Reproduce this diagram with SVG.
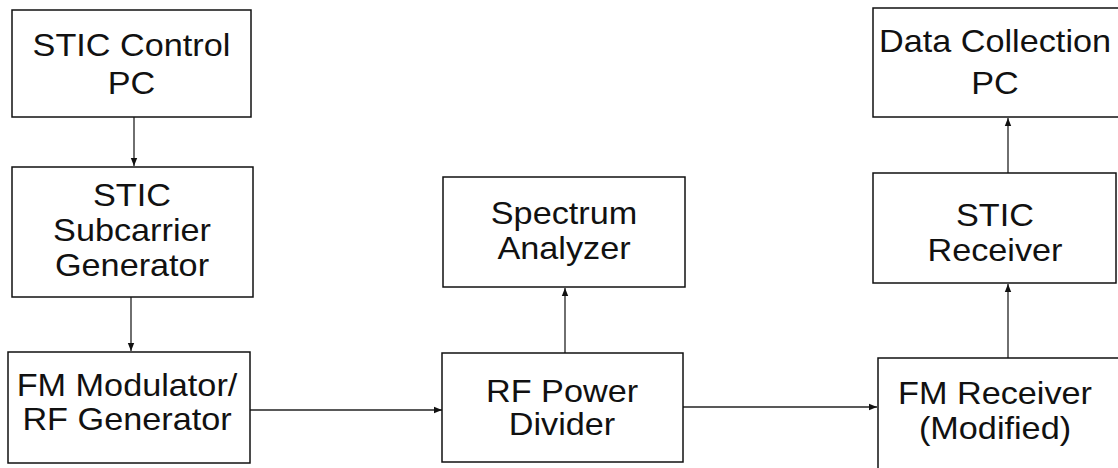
<svg xmlns="http://www.w3.org/2000/svg" width="1118" height="468" viewBox="0 0 1118 468">
<defs>
<marker id="ah" markerWidth="8" markerHeight="8" refX="8" refY="4" orient="auto" markerUnits="userSpaceOnUse">
<path d="M0,0.8 L8,4 L0,7.2 Z" fill="#111"/>
</marker>
<style>
.box{fill:#fff;stroke:#111;stroke-width:1.5}
.lbl{font-family:"Liberation Sans",Arial,sans-serif;font-size:32px;fill:#111;text-anchor:middle}
.edge{fill:none;stroke:#222;stroke-width:1.3;marker-end:url(#ah)}
</style>
</defs>
<rect width="1118" height="468" fill="#fff"/>
<g id="connectors">
<line class="edge" x1="134" y1="117" x2="134" y2="166"/>
<line class="edge" x1="131" y1="297" x2="131" y2="351"/>
<line class="edge" x1="250" y1="410" x2="442" y2="410"/>
<line class="edge" x1="565" y1="353" x2="565" y2="288"/>
<line class="edge" x1="683" y1="407" x2="877" y2="407"/>
<line class="edge" x1="1008" y1="358" x2="1008" y2="284"/>
<line class="edge" x1="1008" y1="173" x2="1008" y2="118"/>
</g>
<g id="stic-control-pc">
<rect class="box" x="12" y="10" width="239" height="107"/>
<text class="lbl" transform="translate(131.5,56) scale(1.07,1)">STIC Control</text>
<text class="lbl" transform="translate(131.5,94) scale(1.07,1)">PC</text>
</g>
<g id="stic-subcarrier-generator">
<rect class="box" x="12" y="167" width="241" height="130"/>
<text class="lbl" transform="translate(132,206) scale(1.07,1)">STIC</text>
<text class="lbl" transform="translate(132,241) scale(1.07,1)">Subcarrier</text>
<text class="lbl" transform="translate(132,276) scale(1.07,1)">Generator</text>
</g>
<g id="fm-modulator">
<rect class="box" x="8" y="352" width="242" height="111"/>
<text class="lbl" transform="translate(127,396) scale(1.07,1)">FM Modulator/</text>
<text class="lbl" transform="translate(127,430) scale(1.07,1)">RF Generator</text>
</g>
<g id="rf-power-divider">
<rect class="box" x="442" y="353" width="241" height="109"/>
<text class="lbl" transform="translate(562,402) scale(1.07,1)">RF Power</text>
<text class="lbl" transform="translate(562,435) scale(1.07,1)">Divider</text>
</g>
<g id="spectrum-analyzer">
<rect class="box" x="443" y="177" width="242" height="110"/>
<text class="lbl" transform="translate(564,224) scale(1.07,1)">Spectrum</text>
<text class="lbl" transform="translate(564,259) scale(1.07,1)">Analyzer</text>
</g>
<g id="data-collection-pc">
<rect class="box" x="873" y="8" width="250" height="109"/>
<text class="lbl" transform="translate(995,52) scale(1.07,1)">Data Collection</text>
<text class="lbl" transform="translate(995,94) scale(1.07,1)">PC</text>
</g>
<g id="stic-receiver">
<rect class="box" x="873" y="173" width="243" height="110"/>
<text class="lbl" transform="translate(995,226) scale(1.07,1)">STIC</text>
<text class="lbl" transform="translate(995,261) scale(1.07,1)">Receiver</text>
</g>
<g id="fm-receiver">
<rect class="box" x="878" y="358" width="250" height="120"/>
<text class="lbl" transform="translate(995,404) scale(1.07,1)">FM Receiver</text>
<text class="lbl" transform="translate(995,439) scale(1.07,1)">(Modified)</text>
</g>
</svg>
